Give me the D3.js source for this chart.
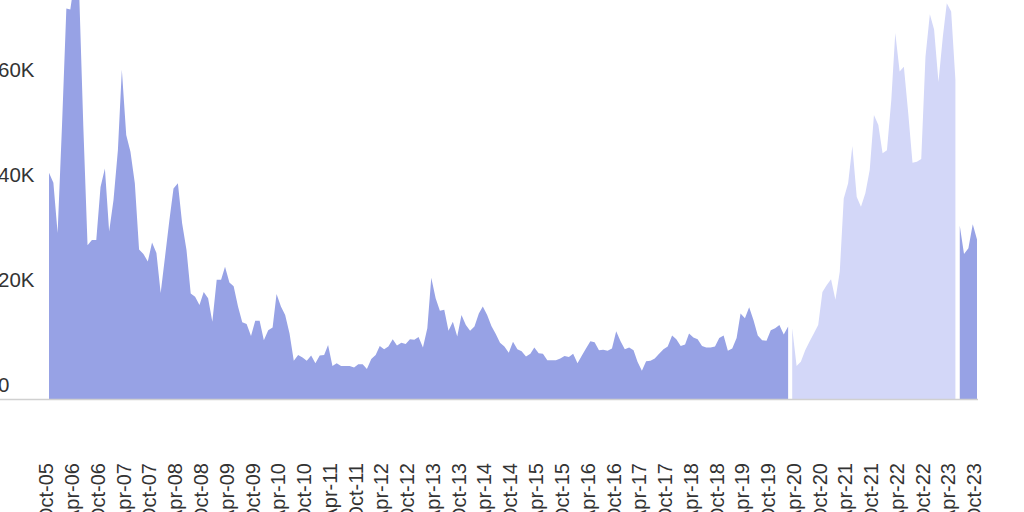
<!DOCTYPE html>
<html>
<head>
<meta charset="utf-8">
<script src="https://cdn.jsdelivr.net/npm/d3@7"></script>
<style>
  html, body { margin: 0; padding: 0; background: #fff; }
  svg { display: block; }
  text { font-family: "Liberation Sans", Arial, sans-serif; fill: #333; }
</style>
</head>
<body>
<svg id="chart" width="1024" height="512"></svg>
<script>
// Monthly values starting Oct-2005 (index 0) through Oct-2023
const startMonth = "2005-10";
const values = [
  43100, 41200, 31600, 52000, 74400, 74200, 80000, 79000, 52000, 29300,
  30300, 30300, 40400, 43900, 31900, 37900, 47400, 62700, 50300, 47100,
  41100, 28500, 27600, 26200, 29800, 27800, 20200, 27100, 34100, 40100,
  41100, 33500, 28400, 20100, 19500, 17900, 20400, 19200, 14700, 22700,
  22700, 25200, 22200, 21500, 17600, 14600, 14300, 12000, 14900, 14900,
  11200, 13100, 13600, 20000, 17600, 16000, 12500, 7300, 8400, 7900,
  7300, 8300, 6800, 8300, 8400, 10300, 6300, 6800, 6300, 6300,
  6300, 6000, 6600, 6600, 5700, 7600, 8400, 10100, 9500, 10000,
  11400, 10200, 10700, 10500, 11400, 11300, 11800, 9800, 13500, 23100,
  19200, 16800, 17000, 13000, 14700, 11900, 16000, 14100, 13000, 13800,
  16300, 17600, 16000, 13900, 12400, 10700, 10000, 8800, 10900, 9500,
  9100, 8100, 8600, 9800, 8700, 8600, 7400, 7400, 7400, 7700,
  8200, 8000, 8600, 6800, 8300, 9600, 11000, 10800, 9300, 9400,
  9200, 9600, 12900, 11000, 9500, 9800, 9300, 7100, 5400, 7200,
  7300, 7700, 8600, 9500, 10000, 12100, 11400, 10100, 10400, 12500,
  11700, 11400, 10100, 9800, 9800, 10000, 11600, 12100, 9200, 9600,
  11600, 16300, 15400, 17500, 15000, 12100, 11200, 11100, 13100, 13500,
  14100, 12300, 13800, 13500, 6300, 7100, 9300, 10900, 12500, 14100,
  20400, 21700, 22800, 18900, 24300, 38200, 41100, 48200, 38500, 36600,
  39200, 43600, 54100, 52200, 46800, 47400, 57000, 69700, 62400, 63300,
  54400, 45000, 45200, 45700, 65200, 73300, 70400, 60400, 69000, 75400,
  73800, 60800, 33000, 27600, 28700, 33300, 30400
];
// highlighted (lighter) period
const highlightFrom = "2020-03";
const highlightTo = "2023-05";

const tickLabels = [
  "Oct-05","Apr-06","Oct-06","Apr-07","Oct-07","Apr-08","Oct-08","Apr-09","Oct-09",
  "Apr-10","Oct-10","Apr-11","Oct-11","Apr-12","Oct-12","Apr-13","Oct-13","Apr-14",
  "Oct-14","Apr-15","Oct-15","Apr-16","Oct-16","Apr-17","Oct-17","Apr-18","Oct-18",
  "Apr-19","Oct-19","Apr-20","Oct-20","Apr-21","Oct-21","Apr-22","Oct-22","Apr-23","Oct-23"
];
const yTicks = [0, 20000, 40000, 60000];

const parseM = d3.timeParse("%Y-%m");
const t0 = parseM(startMonth);
const data = values.map((v, i) => ({ date: d3.timeMonth.offset(t0, i), value: v }));
const hFrom = parseM(highlightFrom), hTo = parseM(highlightTo);
const inHighlight = d => d.date >= hFrom && d.date <= hTo;

const svg = d3.select("#chart");

const x = d3.scaleTime()
  .domain([data[0].date, data[data.length - 1].date])
  .range([49, 977]);
const y = d3.scaleLinear().domain([0, 76000]).range([399, 0]);

const areaDark = d3.area()
  .defined(d => !inHighlight(d))
  .x(d => x(d.date)).y0(y(0)).y1(d => y(d.value));
const areaLight = d3.area()
  .defined(d => inHighlight(d))
  .x(d => x(d.date)).y0(y(0)).y1(d => y(d.value));

svg.append("path").datum(data).attr("d", areaDark).attr("fill", "#97a2e5");
svg.append("path").datum(data).attr("d", areaLight).attr("fill", "#d3d7f8");

// baseline
svg.append("line")
  .attr("x1", 0).attr("x2", 978)
  .attr("y1", y(0) + 0.5).attr("y2", y(0) + 0.5)
  .attr("stroke", "#d0d0d0").attr("stroke-width", 1.5);

// y labels
svg.append("g").selectAll("text").data(yTicks).join("text")
  .attr("x", -2)
  .attr("y", d => y(d) - 7)
  .attr("font-size", 20.5)
  .attr("text-anchor", "start")
  .text(d => d === 0 ? "0" : d3.format("~s")(d).replace("k", "K"));

// x labels (every 6 months)
const tickDates = tickLabels.map((_, k) => d3.timeMonth.offset(t0, k * 6));
svg.append("g").selectAll("text").data(tickLabels).join("text")
  .attr("transform", (d, k) => `translate(${x(tickDates[k])},463) rotate(-90)`)
  .attr("dy", 4.3)
  .attr("font-size", 20)
  .attr("text-anchor", "end")
  .text(d => d);
</script>
</body>
</html>
